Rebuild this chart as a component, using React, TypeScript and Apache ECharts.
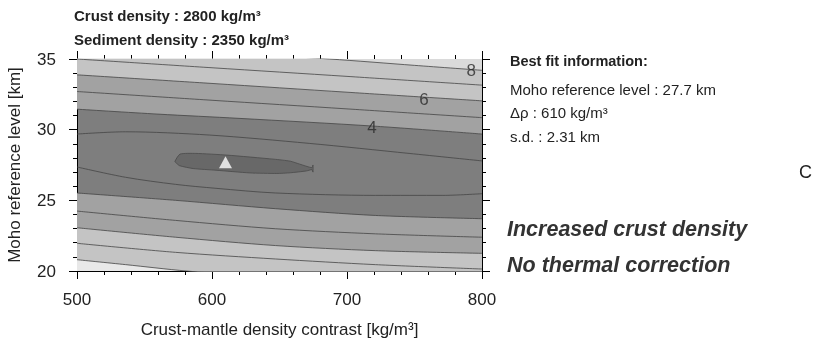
import React, { useEffect, useRef } from "react";
import * as echarts from "echarts";

// Contour lines of misfit (s.d., km): [density contrast, Moho level]
const upper8 = [[500, 36.1], [600, 35.5], [687, 35.0], [750, 34.55], [800, 34.2]];
const upper7 = [[500, 35.0], [600, 34.38], [700, 33.77], [800, 33.15]];
const upper6 = [[500, 33.88], [600, 33.27], [700, 32.65], [800, 32.04]];
const upper5 = [[500, 32.7], [600, 32.08], [700, 31.47], [800, 30.85]];
const upper4 = [[500, 31.45], [560, 31.1], [620, 30.8], [720, 30.25], [800, 29.69]];
const upper3 = [[500, 29.69], [536, 29.85], [598, 29.62], [672, 29.03], [746, 28.32], [800, 27.79]];
const lower3 = [[500, 27.36], [536, 26.63], [573, 26.13], [603, 25.85], [647, 25.52], [721, 25.35], [771, 25.35], [800, 25.47]];
const lower4 = [[500, 25.52], [573, 25.0], [647, 24.41], [721, 23.93], [800, 23.7]];
const lower5 = [[500, 24.24], [573, 23.58], [647, 22.99], [721, 22.63], [800, 22.39]];
const lower6 = [[500, 23.06], [573, 22.39], [647, 21.8], [721, 21.44], [800, 21.25]];
const lower7 = [[500, 21.96], [573, 21.32], [647, 20.85], [721, 20.45], [800, 20.14]];
const lower8 = [[500, 20.8], [536, 20.45], [581, 20.0], [650, 19.5], [800, 18.8]];

// innermost closed contour (s.d. < 2.5 km)
const innerX = [572.5, 576.3, 588, 611, 646, 658, 665, 674, 674.8, 674.8, 674, 670, 658, 648, 628, 603, 586, 576, 573.3];
const innerY = [27.75, 28.27, 28.32, 28.2, 27.91, 27.77, 27.56, 27.31, 27.5, 27.0, 27.17, 27.08, 26.95, 26.9, 26.94, 27.13, 27.25, 27.45, 27.66];

// best fit
const bestFit = [[610, 27.7]];

// contour labels
const labelX = [718.5, 757, 792];
const labelY = [30.15, 32.16, 34.19];
const labelText = ["4", "6", "8"];

const FONT = "Liberation Sans, Arial, Helvetica, sans-serif";

export default function App() {
  const ref = useRef<HTMLDivElement>(null);
  useEffect(() => {
    const chart = echarts.init(ref.current!, null, { renderer: "svg" });
    const C_DARK = "#7e7e7e";
    const C_MED = "#a2a2a2";
    const C_LIGHT = "#c4c4c4";
    const C_TOP = "#dadada";
    const C_BOTTOM = "#e8e8e8";
    const C_INNER = "#686868";
    const lineStyle = { color: "#454545", width: 0.8 };
    const contour = (data: number[][], fill: string | null, origin: string) => ({
      type: "line",
      data,
      symbol: "none",
      smooth: 0.3,
      clip: true,
      silent: true,
      lineStyle,
      areaStyle: fill ? { color: fill, opacity: 1, origin } : undefined,
      z: 2,
    });
    const axisLine = { show: true, lineStyle: { color: "#000", width: 1 } };
    const axisTick = { show: true, inside: false, length: 8, lineStyle: { color: "#000", width: 1 } };
    const minorTick = { show: true, splitNumber: 5, length: 4, lineStyle: { color: "#000", width: 1 } };
    const text = (x: number, y: number, t: string, size: number, weight: string, style = "normal", color = "#222") => ({
      type: "text",
      x,
      y,
      style: {
        text: t,
        fontSize: size,
        fontWeight: weight,
        fontStyle: style,
        fontFamily: FONT,
        fill: color,
        verticalAlign: "middle",
        align: "left",
      },
    });
    chart.setOption({
      animation: false,
      grid: {
        left: 77,
        top: 59,
        width: 405,
        height: 212,
        show: true,
        backgroundColor: C_DARK,
        borderWidth: 0,
      },
      xAxis: [
        {
          type: "value",
          min: 500,
          max: 800,
          interval: 100,
          position: "bottom",
          axisLine,
          axisTick,
          minorTick,
          splitLine: { show: false },
          axisLabel: { fontSize: 17, color: "#222", fontFamily: FONT, margin: 20 },
          name: "Crust-mantle density contrast [kg/m³]",
          nameLocation: "middle",
          nameGap: 50,
          nameTextStyle: { fontSize: 17, color: "#222", fontFamily: FONT },
        },
        {
          type: "value",
          min: 500,
          max: 800,
          interval: 100,
          position: "top",
          axisLine,
          axisTick,
          minorTick,
          splitLine: { show: false },
          axisLabel: { show: false },
        },
      ],
      yAxis: [
        {
          type: "value",
          min: 20,
          max: 35,
          interval: 5,
          position: "left",
          axisLine,
          axisTick,
          minorTick,
          splitLine: { show: false },
          axisLabel: { fontSize: 17, color: "#222", fontFamily: FONT, margin: 21 },
          name: "Moho reference level [km]",
          nameLocation: "middle",
          nameGap: 54,
          nameTextStyle: { fontSize: 17, color: "#222", fontFamily: FONT },
        },
        {
          type: "value",
          min: 20,
          max: 35,
          interval: 5,
          position: "right",
          axisLine,
          axisTick,
          minorTick,
          splitLine: { show: false },
          axisLabel: { show: false },
        },
      ],
      series: [
        contour(upper4, C_MED, "end"),
        contour(upper5, C_MED, "end"),
        contour(upper6, C_LIGHT, "end"),
        contour(upper7, C_LIGHT, "end"),
        contour(upper8, C_TOP, "end"),
        contour(lower4, C_MED, "start"),
        contour(lower5, C_MED, "start"),
        contour(lower6, C_LIGHT, "start"),
        contour(lower7, C_LIGHT, "start"),
        contour(lower8, C_BOTTOM, "start"),
        contour(upper3, null, "end"),
        contour(lower3, null, "start"),
        {
          type: "custom",
          coordinateSystem: "cartesian2d",
          data: [[610, 27.5]],
          silent: true,
          z: 3,
          renderItem: (_p: any, api: any) => ({
            type: "polygon",
            shape: {
              points: innerX.map((x, i) => api.coord([x, innerY[i]])),
              smooth: 0.2,
            },
            style: { fill: C_INNER, stroke: "#4a4a4a", lineWidth: 0.8 },
          }),
        },
        {
          type: "scatter",
          data: bestFit,
          symbol: "triangle",
          symbolSize: [13, 12],
          itemStyle: { color: "#ffffff" },
          silent: true,
          z: 4,
        },
        {
          type: "scatter",
          data: labelX.map((x, i) => [x, labelY[i], labelText[i]]),
          symbolSize: 1,
          itemStyle: { color: "rgba(0,0,0,0)" },
          silent: true,
          z: 5,
          label: {
            show: true,
            position: "inside",
            formatter: (p: any) => p.value[2],
            fontSize: 17,
            color: "#2a2a2a",
            fontFamily: FONT,
          },
        },
      ],
      graphic: [
        text(74, 15, "Crust density : 2800 kg/m³", 15, "bold"),
        text(74, 39, "Sediment density : 2350 kg/m³", 15, "bold"),
        text(510, 61, "Best fit information:", 14.5, "bold"),
        text(510, 89, "Moho reference level : 27.7 km", 15, "normal"),
        text(510, 112, "Δρ : 610 kg/m³", 15, "normal"),
        text(510, 136, "s.d. : 2.31 km", 15, "normal"),
        text(799, 172, "C", 18, "normal"),
        text(507, 229, "Increased crust density", 21.5, "bold", "italic", "#333"),
        text(507, 265, "No thermal correction", 21.5, "bold", "italic", "#333"),
      ],
    });
    return () => chart.dispose();
  }, []);
  return <div ref={ref} style={{ position: "fixed", left: 0, top: 0, width: 820, height: 344 }} />;
}
